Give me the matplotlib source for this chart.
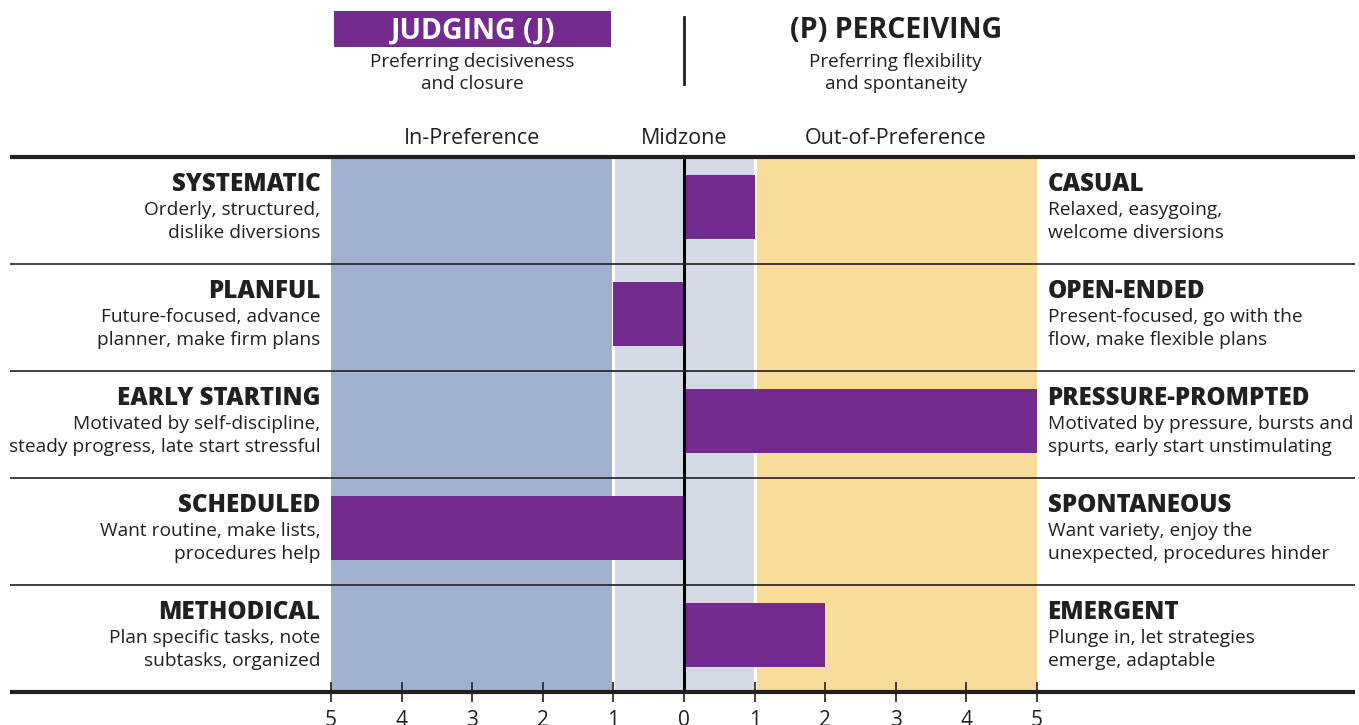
import matplotlib.pyplot as plt
from matplotlib.patches import Rectangle
import matplotlib.transforms as mtransforms

plt.rcParams['font.family'] = ['Open Sans', 'DejaVu Sans']

left_titles = ['SYSTEMATIC', 'PLANFUL', 'EARLY STARTING', 'SCHEDULED', 'METHODICAL']
left_desc = ['Orderly, structured,\ndislike diversions',
             'Future-focused, advance\nplanner, make firm plans',
             'Motivated by self-discipline,\nsteady progress, late start stressful',
             'Want routine, make lists,\nprocedures help',
             'Plan specific tasks, note\nsubtasks, organized']
right_titles = ['CASUAL', 'OPEN-ENDED', 'PRESSURE-PROMPTED', 'SPONTANEOUS', 'EMERGENT']
right_desc = ['Relaxed, easygoing,\nwelcome diversions',
              'Present-focused, go with the\nflow, make flexible plans',
              'Motivated by pressure, bursts and\nspurts, early start unstimulating',
              'Want variety, enjoy the\nunexpected, procedures hinder',
              'Plunge in, let strategies\nemerge, adaptable']
scores = [1, -1, 5, -5, 2]
tick_vals = [-5, -4, -3, -2, -1, 0, 1, 2, 3, 4, 5]
zones = [(-5, -1, '#a0b0cf'), (-1, 1, '#d4dbe7'), (1, 5, '#f8dc99')]
zone_labels = [(-3, 'In-Preference'), (0, 'Midzone'), (3, 'Out-of-Preference')]

PURPLE = '#742b8f'
DARK = '#231f20'

fig = plt.figure(figsize=(13.59, 7.25), dpi=100)
ax = fig.add_axes([331/1359, 33/725, 706/1359, 535/725])
ax.set_xlim(-5, 5)
ax.set_ylim(5, 0)
for s in ax.spines.values():
    s.set_visible(False)

# background zones
for x0, x1, c in zones:
    ax.axvspan(x0, x1, color=c, zorder=0, lw=0)
for xv in (-1, 1):
    ax.axvline(xv, color='white', lw=2.2, zorder=1)

# bars
n = len(scores)
for i, v in enumerate(scores):
    ax.barh(i + 0.47, v, height=0.6, left=0, color=PURPLE, zorder=2)
ax.axvline(0, color='black', lw=2.2, zorder=3)

# horizontal rules across the whole width
yt = ax.get_yaxis_transform()
for i in range(n + 1):
    lw = 3 if i in (0, n) else 1.2
    ax.plot([-0.455, 1.45], [i, i], transform=yt, color=DARK, lw=lw,
            clip_on=False, zorder=4, solid_capstyle='butt')

# row texts
for i in range(n):
    ax.text(-5.15, i + 0.26, left_titles[i], ha='right', va='center',
            fontsize=17.4, fontweight='heavy', color=DARK)
    ax.text(-5.15, i + 0.605, left_desc[i], ha='right', va='center',
            fontsize=13.8, color=DARK, linespacing=1.35)
    ax.text(5.15, i + 0.26, right_titles[i], ha='left', va='center',
            fontsize=17.4, fontweight='heavy', color=DARK)
    ax.text(5.15, i + 0.605, right_desc[i], ha='left', va='center',
            fontsize=13.8, color=DARK, linespacing=1.35)

# bottom axis ticks
ax.set_yticks([])
ax.set_xticks(tick_vals)
ax.set_xticklabels([str(abs(t)) for t in tick_vals], fontsize=15, color=DARK)
ax.tick_params(axis='x', direction='inout', length=14, width=1.2,
               color=DARK, pad=6)

# header
bt = mtransforms.blended_transform_factory(ax.transData, fig.transFigure)
ax.add_patch(Rectangle((-4.96, 1 - 47/725), 3.92, 36/725, transform=bt,
                       color=PURPLE, clip_on=False, lw=0))
ax.text(-3, 1 - 31/725, 'JUDGING (J)', transform=bt, ha='center', va='center',
        fontsize=20.5, fontweight='bold', color='white')
ax.text(3, 1 - 31/725, '(P) PERCEIVING', transform=bt, ha='center', va='center',
        fontsize=20.5, fontweight='bold', color=DARK)
ax.text(-3, 1 - 73/725, 'Preferring decisiveness\nand closure', transform=bt,
        ha='center', va='center', fontsize=13.6, color=DARK, linespacing=1.35)
ax.text(3, 1 - 73/725, 'Preferring flexibility\nand spontaneity', transform=bt,
        ha='center', va='center', fontsize=13.6, color=DARK, linespacing=1.35)
ax.plot([0, 0], [1 - 84/725, 1 - 17/725], transform=bt, color=DARK, lw=2,
        clip_on=False)
for xv, lab in zone_labels:
    ax.text(xv, 1 - 138/725, lab, transform=bt, ha='center', va='center',
            fontsize=15.5, color=DARK)

fig.savefig('out.png', dpi=100)
